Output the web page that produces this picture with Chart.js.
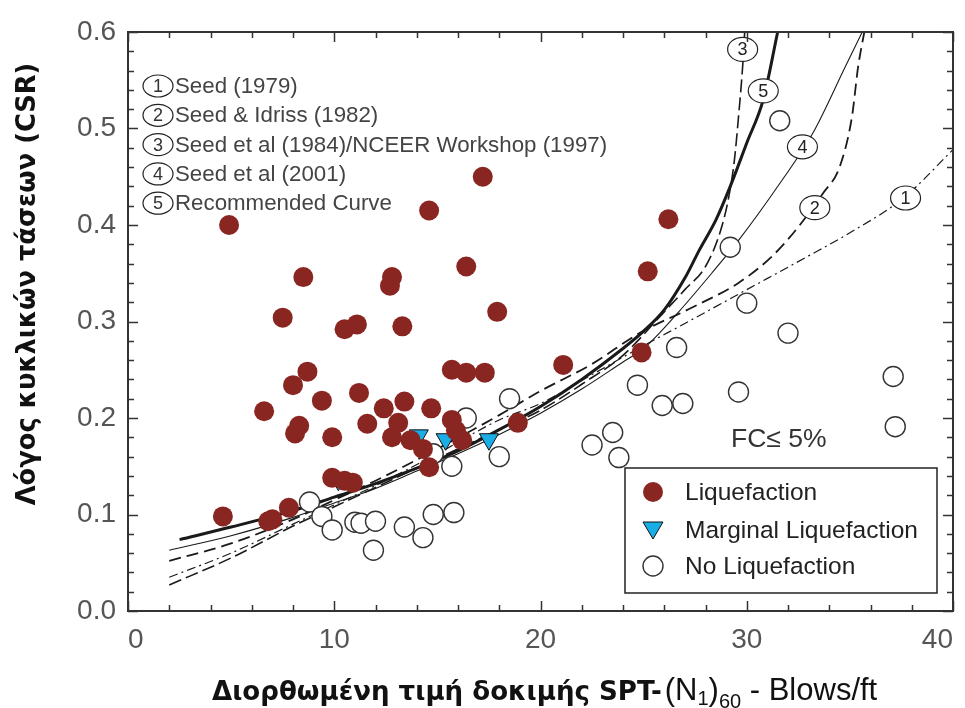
<!DOCTYPE html>
<html>
<head>
<meta charset="utf-8">
<script src="https://cdn.jsdelivr.net/npm/chart.js@4.4.1/dist/chart.umd.min.js"></script>
<style>
  html, body { margin: 0; padding: 0; background: #fff; }
  #wrap { width: 965px; height: 708px; }
</style>
</head>
<body>
<div id="wrap"><canvas id="chart" width="965" height="708"></canvas></div>
<script>
"use strict";
///////////////////////////////
//Data

// Liquefaction (filled red)
const liqX = [4.9, 4.6, 7.5, 6.6, 8.5, 8.0, 8.7, 8.3, 8.1, 9.4, 9.9, 7.0, 6.8, 7.8, 9.9, 10.9, 10.5,
  10.5, 11.1, 11.2, 11.6, 12.4, 12.8, 12.7, 13.3, 13.4, 12.8, 13.1, 13.7, 14.3, 14.7, 14.6, 14.6,
  15.7, 15.7, 15.9, 16.2, 16.4, 16.4, 17.2, 17.3, 17.9, 18.9, 21.1, 24.9, 25.2, 26.2];
const liqY = [0.400, 0.098, 0.304, 0.207, 0.346, 0.234, 0.248, 0.192, 0.184, 0.218, 0.180, 0.095, 0.093, 0.107, 0.138, 0.133, 0.135,
  0.292, 0.297, 0.226, 0.194, 0.210, 0.346, 0.337, 0.295, 0.217, 0.180, 0.195, 0.177, 0.168, 0.210, 0.149, 0.415,
  0.198, 0.250, 0.187, 0.177, 0.247, 0.357, 0.450, 0.247, 0.310, 0.195, 0.255, 0.268, 0.352, 0.406];

// Marginal liquefaction (blue triangles)
const margX = [10.2, 14.1, 15.4, 17.5];
const margY = [0.136, 0.182, 0.178, 0.178];

// No liquefaction (open circles)
const noLiqX = [8.8, 9.4, 9.9, 11.0, 11.3, 12.0, 11.9, 13.4, 14.3, 14.8, 15.8, 14.8, 15.7, 16.4, 18.5, 18.0,
  22.5, 23.5, 23.8, 24.7, 25.9, 26.9, 26.6, 29.6, 29.2, 30.0, 32.0, 31.6, 37.1, 37.2];
const noLiqY = [0.113, 0.098, 0.084, 0.092, 0.091, 0.093, 0.063, 0.087, 0.076, 0.100, 0.102, 0.163, 0.150, 0.200, 0.220, 0.160,
  0.172, 0.185, 0.159, 0.234, 0.213, 0.215, 0.273, 0.227, 0.377, 0.319, 0.288, 0.508, 0.243, 0.191];

// Boundary curves
const curve1X = [2, 5, 8, 10, 12, 15, 18, 20, 22.5, 25, 27, 30, 33, 35, 37.6, 40];
const curve1Y = [0.035, 0.06, 0.09, 0.11, 0.13, 0.163, 0.198, 0.215, 0.245, 0.275, 0.298, 0.333, 0.368, 0.392, 0.428, 0.478];

const curve2X = [2, 5, 8, 10, 12, 15, 18, 20, 22.5, 24.8, 27.4, 29.6, 31.2, 32.5, 33.7, 34.5, 35.1, 35.4, 35.7];
const curve2Y = [0.052, 0.07, 0.095, 0.115, 0.135, 0.168, 0.203, 0.228, 0.256, 0.288, 0.315, 0.34, 0.367, 0.398, 0.433, 0.46, 0.512, 0.564, 0.6];

const curve3X = [2, 5, 8, 10, 12, 15, 18, 20, 22, 24, 26, 27, 28, 28.7, 29.1, 29.4, 29.6, 29.8, 29.9];
const curve3Y = [0.027, 0.055, 0.088, 0.108, 0.128, 0.158, 0.188, 0.208, 0.235, 0.265, 0.31, 0.333, 0.357, 0.392, 0.426, 0.467, 0.512, 0.564, 0.6];

const curve4X = [2, 5, 8, 10, 12, 14, 16, 18, 20, 22, 24, 25, 26.7, 28.3, 29.6, 31.6, 33.2, 34.8, 35.6];
const curve4Y = [0.063, 0.078, 0.097, 0.112, 0.127, 0.145, 0.163, 0.183, 0.205, 0.23, 0.258, 0.272, 0.31, 0.35, 0.384, 0.443, 0.495, 0.565, 0.6];

const curve5X = [2.5, 5, 8, 10, 12, 14, 16, 18, 20, 22, 24, 25, 26, 27, 27.7, 28.5, 29.2, 30, 30.8, 31.5];
const curve5Y = [0.074, 0.087, 0.104, 0.118, 0.132, 0.148, 0.166, 0.188, 0.212, 0.24, 0.272, 0.29, 0.312, 0.345, 0.374, 0.405, 0.44, 0.485, 0.53, 0.6];

const curveNames = ["Seed (1979)", "Seed & Idriss (1982)", "Seed et al (1984)/NCEER Workshop (1997)",
  "Seed et al (2001)", "Recommended Curve"];
// circled number tags sitting on the curves (data units)
const tagNums = ["3", "5", "4", "2", "1"];
const tagX = [29.8, 30.8, 32.7, 33.3, 37.7];
const tagY = [0.582, 0.539, 0.481, 0.418, 0.428];

const legendNames = ["Liquefaction", "Marginal Liquefaction", "No Liquefaction"];
const noteText = "FC\u2264 5%";
const yTitle = "\u039b\u03cc\u03b3\u03bf\u03c2 \u03ba\u03c5\u03ba\u03bb\u03b9\u03ba\u03ce\u03bd \u03c4\u03ac\u03c3\u03b5\u03c9\u03bd (CSR)";
const xTitleBold = "\u0394\u03b9\u03bf\u03c1\u03b8\u03c9\u03bc\u03ad\u03bd\u03b7 \u03c4\u03b9\u03bc\u03ae \u03b4\u03bf\u03ba\u03b9\u03bc\u03ae\u03c2 SPT-";

//////////////////////////////
//Helpers
const FONT = "'Liberation Sans', Arial, sans-serif";
const WIDE = "'DejaVu Sans', Verdana, sans-serif";
const RED = "#8a2621";
const CYAN = "#1aaee6";

const toPoints = function (xs, ys) {
  return xs.map((x, i) => ({ x: x, y: ys[i] }));
};

const lineSet = function (xs, ys, width, dash) {
  return {
    data: toPoints(xs, ys),
    showLine: true,
    borderColor: "#1a1a1a",
    borderWidth: width,
    borderDash: dash,
    pointRadius: 0,
    cubicInterpolationMode: "monotone",
    fill: false,
    order: 2,
  };
};

const ellipse = function (ctx, cx, cy, rx, ry, fill) {
  ctx.beginPath();
  ctx.ellipse(cx, cy, rx, ry, 0, 0, Math.PI * 2);
  if (fill) {
    ctx.fillStyle = "#fff";
    ctx.fill();
  }
  ctx.lineWidth = 1.2;
  ctx.strokeStyle = "#222";
  ctx.stroke();
};

// pick the font size that makes a text span a given width
const fitSize = function (ctx, text, weight, family, target) {
  ctx.font = weight + " 20px " + family;
  return (20 * target) / ctx.measureText(text).width;
};

// frame, inward ticks, tags, legends and axis titles
const decor = {
  id: "decor",
  afterDatasetsDraw(chart) {
    const ctx = chart.ctx;
    const xa = chart.scales.x;
    const ya = chart.scales.y;
    const { left, right, top, bottom } = chart.chartArea;
    ctx.save();

    // curve tags
    ctx.font = "18px " + FONT;
    ctx.textAlign = "center";
    ctx.textBaseline = "middle";
    tagNums.forEach((t, i) => {
      const cx = xa.getPixelForValue(tagX[i]);
      const cy = ya.getPixelForValue(tagY[i]);
      ellipse(ctx, cx, cy, 15, 12, true);
      ctx.fillStyle = "#222";
      ctx.fillText(t, cx, cy + 1);
    });

    // curve list, top left
    curveNames.forEach((name, i) => {
      const cy = 86 + i * 29.3;
      ellipse(ctx, 158, cy, 15, 11, true);
      ctx.font = "18px " + FONT;
      ctx.fillStyle = "#333";
      ctx.textAlign = "center";
      ctx.fillText(String(i + 1), 158, cy + 1);
      ctx.font = "22.3px " + FONT;
      ctx.fillStyle = "#444";
      ctx.textAlign = "left";
      ctx.fillText(name, 175, cy + 1);
    });

    // FC note
    ctx.font = "26.5px " + FONT;
    ctx.fillStyle = "#333";
    ctx.textAlign = "left";
    ctx.fillText(noteText, 731, 440);

    // symbol legend box
    ctx.fillStyle = "#fff";
    ctx.fillRect(625, 468, 312, 125);
    ctx.lineWidth = 1.5;
    ctx.strokeStyle = "#222";
    ctx.strokeRect(625, 468, 312, 125);
    const rows = [492, 530, 566];
    ctx.beginPath();
    ctx.arc(653, rows[0], 10, 0, Math.PI * 2);
    ctx.fillStyle = RED;
    ctx.fill();
    ctx.beginPath();
    ctx.moveTo(643, rows[1] - 8);
    ctx.lineTo(663, rows[1] - 8);
    ctx.lineTo(653, rows[1] + 9);
    ctx.closePath();
    ctx.fillStyle = CYAN;
    ctx.fill();
    ctx.lineWidth = 1;
    ctx.strokeStyle = "#111";
    ctx.stroke();
    ctx.beginPath();
    ctx.arc(653, rows[2], 10, 0, Math.PI * 2);
    ctx.fillStyle = "#fff";
    ctx.fill();
    ctx.lineWidth = 1.4;
    ctx.strokeStyle = "#333";
    ctx.stroke();
    ctx.font = "24.5px " + FONT;
    ctx.fillStyle = "#222";
    legendNames.forEach((n, i) => ctx.fillText(n, 685, rows[i] + 1));

    // frame
    ctx.lineWidth = 2;
    ctx.strokeStyle = "#333";
    ctx.strokeRect(left, top, right - left, bottom - top);

    // inward ticks
    ctx.lineWidth = 1.5;
    ctx.beginPath();
    for (let v = 0; v <= 40; v += 2) {
      const px = Math.round(xa.getPixelForValue(v)) + 0.5;
      const len = v % 10 === 0 ? 10 : 6;
      ctx.moveTo(px, bottom);
      ctx.lineTo(px, bottom - len);
      ctx.moveTo(px, top);
      ctx.lineTo(px, top + len);
    }
    for (let k = 0; k <= 30; k++) {
      const py = Math.round(ya.getPixelForValue(k * 0.02)) + 0.5;
      const len = k % 5 === 0 ? 10 : 6;
      ctx.moveTo(left, py);
      ctx.lineTo(left + len, py);
      ctx.moveTo(right, py);
      ctx.lineTo(right - len, py);
    }
    ctx.stroke();

    // y title
    ctx.save();
    ctx.translate(28, 284);
    ctx.rotate(-Math.PI / 2);
    const ySize = fitSize(ctx, yTitle, "bold", WIDE, 443);
    ctx.font = "bold " + ySize + "px " + WIDE;
    ctx.fillStyle = "#111";
    ctx.textAlign = "center";
    ctx.textBaseline = "middle";
    ctx.fillText(yTitle, 0, 0);
    ctx.restore();

    // x title with subscripts
    ctx.textAlign = "left";
    ctx.textBaseline = "alphabetic";
    const base = 700;
    let cx = 212;
    ctx.fillStyle = "#111";
    const xSize = fitSize(ctx, xTitleBold, "bold", WIDE, 450);
    ctx.font = "bold " + xSize + "px " + WIDE;
    ctx.fillText(xTitleBold, cx, base);
    cx += ctx.measureText(xTitleBold).width + 3;
    const parts = [
      ["(N", 31, 0], ["1", 20, 5], [")", 31, 0], ["60", 20, 8], [" - Blows/ft", 31, 0],
    ];
    parts.forEach(([t, size, drop]) => {
      ctx.font = size + "px " + FONT;
      ctx.fillText(t, cx, base + drop);
      cx += ctx.measureText(t).width;
    });

    ctx.restore();
  },
};

//////////////////////////////
//Chart
const chart = new Chart(document.getElementById("chart"), {
  type: "scatter",
  data: {
    datasets: [
      {
        data: toPoints(liqX, liqY),
        pointStyle: "circle",
        pointRadius: 10,
        backgroundColor: RED,
        borderColor: RED,
        borderWidth: 0,
        order: 0,
      },
      {
        data: toPoints(noLiqX, noLiqY),
        pointStyle: "circle",
        pointRadius: 10,
        backgroundColor: "#fff",
        borderColor: "#333",
        borderWidth: 1.4,
        order: 0,
      },
      {
        data: toPoints(margX, margY),
        pointStyle: "triangle",
        rotation: 180,
        pointRadius: 11,
        backgroundColor: CYAN,
        borderColor: "#111",
        borderWidth: 1,
        order: 0,
      },
      lineSet(curve1X, curve1Y, 1.2, [9, 4, 2, 4]),
      lineSet(curve2X, curve2Y, 1.8, [12, 6]),
      lineSet(curve3X, curve3Y, 1.6, [13, 5]),
      lineSet(curve4X, curve4Y, 1.1, []),
      lineSet(curve5X, curve5Y, 3, []),
    ],
  },
  options: {
    responsive: false,
    animation: false,
    layout: { padding: { top: 32, right: 11, left: 0, bottom: 0 } },
    plugins: {
      legend: { display: false },
      tooltip: { enabled: false },
    },
    scales: {
      x: {
        type: "linear",
        min: 0,
        max: 40,
        afterFit: function (s) {
          s.height = 97;
          s.paddingLeft = 0;
          s.paddingRight = 0;
        },
        grid: { display: false, drawTicks: false },
        border: { display: false },
        ticks: {
          stepSize: 10,
          padding: 12,
          align: "inner",
          color: "#555",
          font: { family: FONT, size: 28 },
        },
      },
      y: {
        type: "linear",
        min: 0,
        max: 0.6,
        afterFit: function (s) {
          s.width = 128;
          s.paddingTop = 0;
          s.paddingBottom = 0;
        },
        grid: { display: false, drawTicks: false },
        border: { display: false },
        ticks: {
          stepSize: 0.1,
          padding: 12,
          color: "#555",
          font: { family: FONT, size: 28 },
          callback: function (value) {
            return value.toFixed(1);
          },
        },
      },
    },
  },
  plugins: [decor],
});
</script>
</body>
</html>
